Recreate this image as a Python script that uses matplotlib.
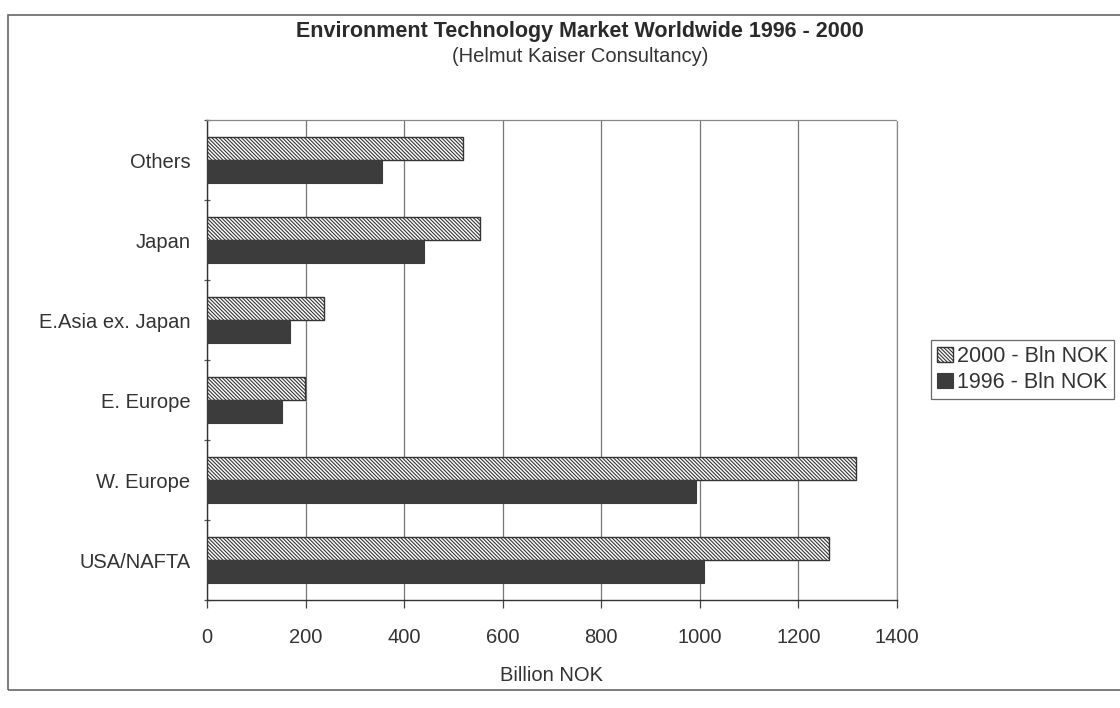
import numpy as np
import matplotlib
matplotlib.use("Agg")
import matplotlib.pyplot as plt
from matplotlib.patches import Rectangle

# data (Billion NOK)
regions = ["USA/NAFTA", "W. Europe", "E. Europe", "E.Asia ex. Japan", "Japan", "Others"]
sales_2000 = [1262, 1316, 199, 237, 553, 519]
sales_1996 = [1008, 993, 153, 169, 441, 355]
x_ticks = [0, 200, 400, 600, 800, 1000, 1200, 1400]

plt.rcParams['font.family'] = ['Liberation Sans', 'DejaVu Sans']
plt.rcParams['hatch.linewidth'] = 0.8
plt.rcParams['hatch.color'] = '#3a3a3a'

fig = plt.figure(figsize=(11.2, 7.08), dpi=100)
ax = fig.add_axes([207 / 1120, 1 - 600 / 708, 690 / 1120, 480 / 708])

y = np.arange(len(regions))
h = 0.29

ax.barh(y + h / 2, sales_2000, height=h, color='white', edgecolor='#333333',
        linewidth=1.0, hatch='\\' * 9, label='2000 - Bln NOK', zorder=3)
ax.barh(y - h / 2, sales_1996, height=h, color='#3c3c3c', edgecolor='#3c3c3c',
        linewidth=0.8, label='1996 - Bln NOK', zorder=3)

ax.set_xlim(0, 1400)
ax.set_ylim(-0.5, len(regions) - 0.5)
ax.set_xticks(x_ticks)
ax.set_xticklabels([str(t) for t in x_ticks], fontsize=14.5, color='#333333')
ax.tick_params(axis='x', length=6, width=0.9, direction='out', pad=14, color='#444444')

# category labels at centres, tick marks at the boundaries
ax.set_yticks(y)
ax.set_yticklabels(regions, fontsize=14.5, color='#333333')
ax.tick_params(axis='y', which='major', length=0, pad=12)
ax.set_yticks(np.arange(len(regions) + 1) - 0.5, minor=True)
ax.tick_params(axis='y', which='minor', length=5, width=0.9, direction='inout', color='#555555')

ax.grid(axis='x', color='#777777', linewidth=0.9, zorder=0)
ax.set_axisbelow(True)

for side in ['top', 'right']:
    ax.spines[side].set_color('#888888')
    ax.spines[side].set_linestyle((0, (1, 1)))
    ax.spines[side].set_linewidth(0.9)
for side in ['left', 'bottom']:
    ax.spines[side].set_color('#333333')
    ax.spines[side].set_linewidth(1.0)

ax.set_xlabel('Billion NOK', fontsize=14.5, color='#333333', labelpad=14)

fig.text(580 / 1120, 1 - 31 / 708, 'Environment Technology Market Worldwide 1996 - 2000',
         ha='center', va='center', fontsize=15.5, fontweight='bold', color='#2a2a2a')
fig.text(580 / 1120, 1 - 57 / 708, '(Helmut Kaiser Consultancy)',
         ha='center', va='center', fontsize=14.5, color='#333333')

leg = fig.legend(loc='upper left', bbox_to_anchor=(931 / 1120, 1 - 340 / 708),
                 fontsize=15.5, frameon=True, fancybox=False, handlelength=0.7,
                 handleheight=0.7, handletextpad=0.2, borderpad=0.3,
                 labelspacing=0.2, borderaxespad=0)
leg.get_frame().set_edgecolor('#444444')
leg.get_frame().set_linewidth(0.9)
for t in leg.get_texts():
    t.set_color('#333333')

# outer frame of the scanned chart
fig.patches.append(Rectangle((8 / 1120, 1 - 690 / 708), 1.2, 675 / 708,
                             transform=fig.transFigure, fill=False,
                             edgecolor='#666666', linewidth=1.2))

fig.savefig('out.png', dpi=100, facecolor='white')
